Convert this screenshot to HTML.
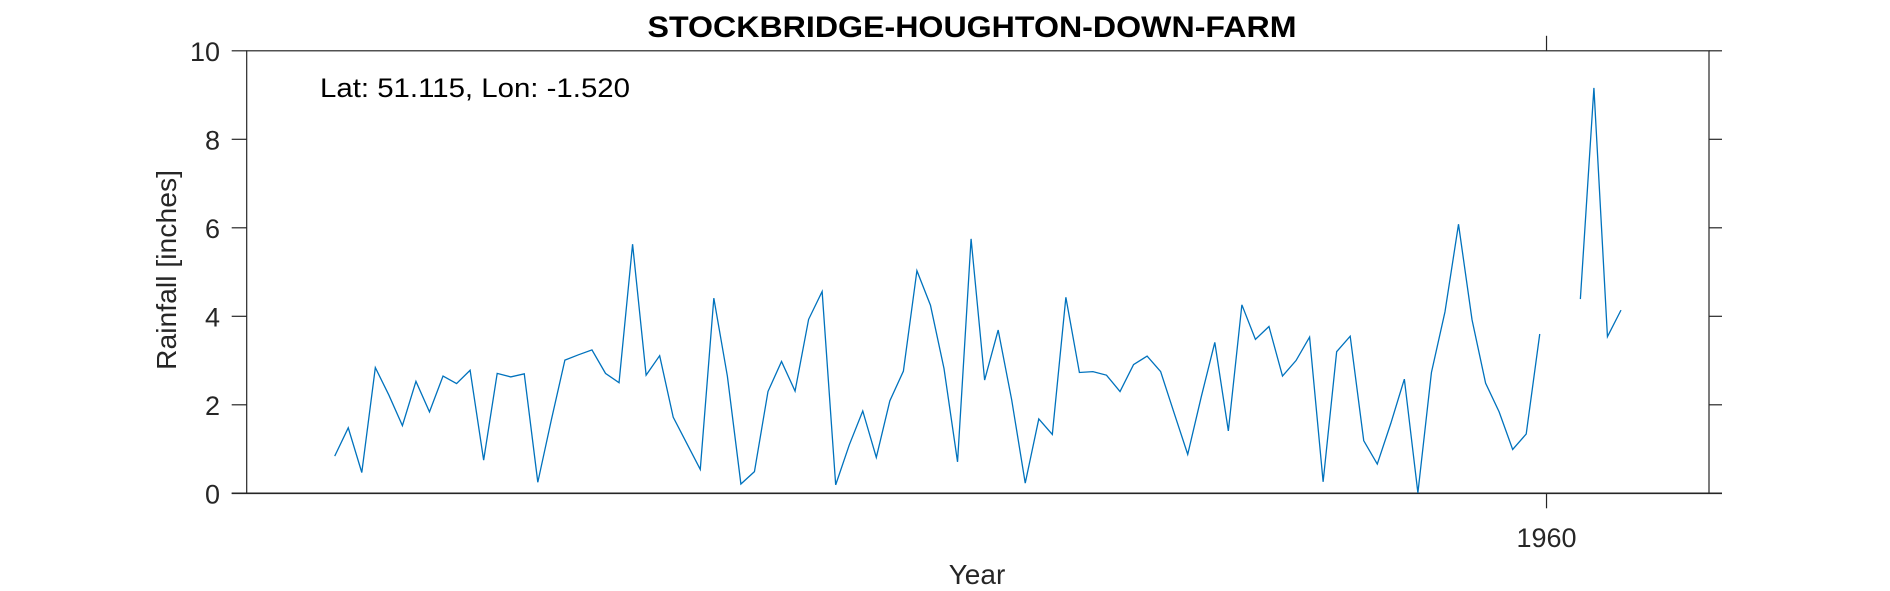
<!DOCTYPE html>
<html><head><meta charset="utf-8"><style>
html,body{margin:0;padding:0;background:#fff;}
svg{display:block;font-family:"Liberation Sans",Arial,sans-serif;}
</style></head><body>
<svg id="chart" width="1890" height="591" viewBox="0 0 1890 591" xmlns="http://www.w3.org/2000/svg">
<text x="972" y="37" text-anchor="middle" font-size="30" font-weight="bold" textLength="649" lengthAdjust="spacingAndGlyphs" fill="#000">STOCKBRIDGE-HOUGHTON-DOWN-FARM</text>
<rect x="246.7" y="50.8" width="1462.3" height="442.5" fill="none" stroke="#262626" stroke-width="1.2"/>
<g id="yticks"></g>
<g id="xticks"></g>
<g id="series"></g>
<text x="320" y="97" font-size="27" textLength="310" lengthAdjust="spacingAndGlyphs" fill="#000">Lat: 51.115, Lon: -1.520</text>
<text transform="translate(176,270) rotate(-90)" text-anchor="middle" font-size="28" textLength="200" lengthAdjust="spacingAndGlyphs" fill="#262626">Rainfall [inches]</text>
<text x="977" y="584" text-anchor="middle" font-size="28" fill="#262626">Year</text>
</svg>
<script>
const years = [];
for (let y = 1870; y <= 1965; y++) years.push(y);
const rainfall = [0.84,1.48,0.47,2.84,2.22,1.53,2.53,1.84,2.65,2.48,2.78,0.75,2.71,2.63,2.70,0.25,1.66,3.01,3.13,3.24,
2.71,2.50,5.63,2.67,3.11,1.72,1.13,0.54,4.41,2.65,0.21,0.49,2.30,2.98,2.31,3.93,4.56,0.19,1.09,1.86,
0.81,2.09,2.76,5.03,4.25,2.82,0.71,5.75,2.56,3.69,2.11,0.23,1.68,1.33,4.43,2.73,2.75,2.67,2.30,2.91,
3.10,2.75,1.81,0.88,2.18,3.41,1.41,4.26,3.48,3.77,2.65,3.00,3.53,0.26,3.20,3.55,1.19,0.66,1.58,2.58,
0.01,2.73,4.10,6.08,3.92,2.49,1.84,0.99,1.34,3.60,null,null,4.39,9.16,3.54,4.14];
const yTickValues = [0,2,4,6,8,10];
const yTickLabels = ["0","2","4","6","8","10"];
const xTickValues = [1960];
const xTickLabels = ["1960"];

const NS = "http://www.w3.org/2000/svg";
const X0 = 246.7, X1 = 1709, Y0 = 493.3, Y1 = 50.8;
const xMin = 1864, xMax = 1972, yMin = 0, yMax = 10;
const xs = v => X0 + (v - xMin) / (xMax - xMin) * (X1 - X0);
const ys = v => Y0 - (v - yMin) / (yMax - yMin) * (Y0 - Y1);
function mk(tag, attrs, parent) {
  const e = document.createElementNS(NS, tag);
  for (const k in attrs) e.setAttribute(k, attrs[k]);
  parent.appendChild(e);
  return e;
}
const yg = document.getElementById('yticks');
yTickValues.forEach((v, i) => {
  const y = ys(v);
  const l = mk('line', {x1: X0 - 15, x2: X0, y1: y, y2: y, stroke: '#262626', 'stroke-width': 1.2}, yg);
  
  
  const r = mk('line', {x1: X1, x2: X1 + 13, y1: y, y2: y, stroke: '#262626', 'stroke-width': 1.2}, yg);
  
  
  const t = mk('text', {x: 220, y: y + 10, 'text-anchor': 'end', 'font-size': 27, fill: '#262626'}, yg);
  t.textContent = yTickLabels[i];
  
  
});
const bl = mk('line', {x1: X0 - 15, x2: X1 + 13, y1: Y0, y2: Y0, stroke: '#262626', 'stroke-width': 1.6}, yg);


const xg = document.getElementById('xticks');
xTickValues.forEach((v, i) => {
  const x = xs(v);
  const a = mk('line', {x1: x, x2: x, y1: Y0, y2: Y0 + 15, stroke: '#262626', 'stroke-width': 1.2}, xg);
  
  
  const b = mk('line', {x1: x, x2: x, y1: Y1 - 15, y2: Y1, stroke: '#262626', 'stroke-width': 1.2}, xg);
  
  
  const t = mk('text', {x: x, y: 547, 'text-anchor': 'middle', 'font-size': 27, fill: '#262626'}, xg);
  t.textContent = xTickLabels[i];
  
  
});
const sg = document.getElementById('series');
let d = '', pen = false;
rainfall.forEach((v, i) => {
  if (v === null) { pen = false; return; }
  const x = xs(years[i] + 0.5), y = ys(v);
  d += (pen ? 'L' : 'M') + x.toFixed(2) + ' ' + y.toFixed(2) + ' ';
  pen = true;
});
const p = mk('path', {d: d, fill: 'none', stroke: '#0072BD', 'stroke-width': 1.3, 'stroke-linejoin': 'miter'}, sg);


</script>
</body></html>
